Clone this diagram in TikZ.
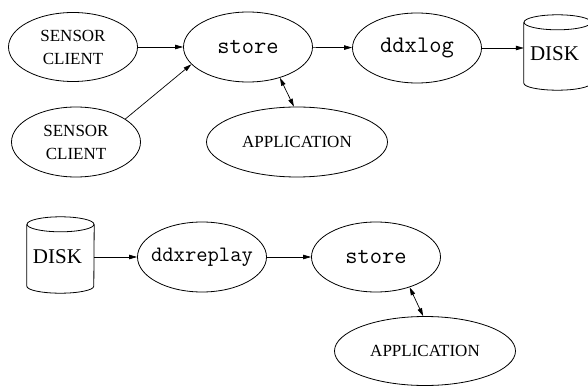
\documentclass[tikz,border=0pt]{standalone}
\usepackage{fontspec}
\setmainfont{Liberation Serif}
\usetikzlibrary{shapes.geometric,arrows.meta}
\tikzset{
 ellip/.style={draw, ellipse, inner sep=0pt, line width=0.8pt},
 txt/.style={align=center, inner sep=0pt, font=\fontsize{17}{23}\selectfont},
 mono/.style={inner sep=0pt, font=\fontsize{23.8}{26}\selectfont\ttfamily},
 monos/.style={inner sep=0pt, font=\fontsize{22}{26}\selectfont\ttfamily},
 disktxt/.style={inner sep=0pt, font=\fontsize{21}{24}\selectfont},
 diskbox/.style={minimum width=67pt, inner sep=0pt},
 lw/.style={line width=0.8pt},
 arr/.style={-{Triangle[length=8pt,width=4.5pt]}, line width=0.7pt},
 darr/.style={{Triangle[length=8pt,width=4.5pt]}-{Triangle[length=8pt,width=4.5pt]}, line width=0.7pt},
}
\begin{document}
\begin{tikzpicture}[x=1pt,y=-1pt]
\useasboundingbox (0,0) rectangle (588,387);
% top row
\node[ellip, minimum width=129pt, minimum height=69pt] (sc1) at (73,47) {};
\node[txt] (sc1t) at (sc1) {SENSOR\\CLIENT};
\node[ellip, minimum width=129pt, minimum height=70pt] (sc2) at (76,142) {};
\node[txt] (sc2t) at (sc2) {SENSOR\\CLIENT};
\node[ellip, minimum width=129pt, minimum height=70pt] (store) at (248,47) {};
\node[mono] (storet) at (store) {store};
\node[ellip, minimum width=129pt, minimum height=70pt] (ddxlog) at (417,48) {};
\node[mono] (ddxlogt) at (ddxlog) {ddxlog};
\node[ellip, minimum width=181pt, minimum height=70pt] (app) at (297,142) {};
\node[txt] (appt) at (app) {APPLICATION};
\node[diskbox, minimum height=75pt] (diskA) at (557.5,52.5) {};
\node[disktxt] (diskAt) at ([xshift=-3pt,yshift=-1.5pt]diskA.center) {DISK};
\draw[lw] ([yshift=-7.5pt]diskA.north) ellipse (33.5pt and 7.5pt);
\draw[lw] ([yshift=-7.5pt]diskA.north west) -- ([yshift=7pt]diskA.south west)
  arc[start angle=180, end angle=360, x radius=33.5pt, y radius=7pt]
  -- ([yshift=-7.5pt]diskA.north east);
\draw[arr] (sc1) -- (store);
\draw[arr] (sc2.25) -- (store.197);
\draw[arr] (store) -- (ddxlog);
\draw[arr] (ddxlog.east) -- (ddxlog.east -| diskA.west);
\draw[darr] (store.-44) -- (app.95);
% bottom row
\node[diskbox, minimum height=76pt] (diskB) at (60.5,255) {};
\node[disktxt] (diskBt) at ([xshift=-3pt,yshift=-2pt]diskB.center) {DISK};
\draw[lw] ([yshift=-7.5pt]diskB.north) ellipse (33.5pt and 7.5pt);
\draw[lw] ([yshift=-7.5pt]diskB.north west) -- ([yshift=7pt]diskB.south west)
  arc[start angle=180, end angle=360, x radius=33.5pt, y radius=7pt]
  -- ([yshift=-7.5pt]diskB.north east);
\node[ellip, minimum width=129pt, minimum height=70pt] (replay) at (202,257) {};
\node[monos] (replayt) at (replay) {ddxreplay};
\node[ellip, minimum width=129pt, minimum height=70pt] (store2) at (376,257) {};
\node[mono] (store2t) at (store2) {store};
\node[ellip, minimum width=181pt, minimum height=69pt] (app2) at (425,351) {};
\node[txt] (app2t) at (app2) {APPLICATION};
\draw[arr] (replay.west -| diskB.east) -- (replay.west);
\draw[arr] (replay) -- (store2);
\draw[darr] (store2.-42) -- (app2.93);
\end{tikzpicture}
\end{document}
